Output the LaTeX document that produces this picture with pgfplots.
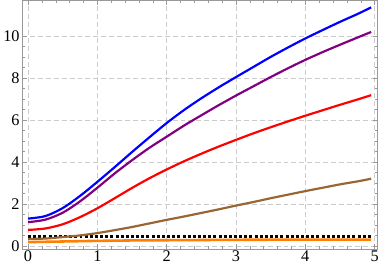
\documentclass[border=0pt]{standalone}
\usepackage{pgfplots}
\pgfplotsset{compat=1.18}
\usepackage{fontspec}
\setmainfont{Liberation Serif}
\definecolor{mbrown}{rgb}{0.6,0.4,0.2}
\definecolor{morange}{rgb}{1,0.5,0}
\definecolor{mpurple}{rgb}{0.5,0,0.5}
\definecolor{framegray}{gray}{0.6}
\begin{document}
\begin{tikzpicture}
\begin{axis}[
  scale only axis,
  width=359bp, height=251bp,
  xmin=-0.086, xmax=5.043,
  ymin=-0.14, ymax=11.7,
  xtick={0,1,2,3,4,5},
  ytick={0,2,4,6,8,10},
  minor x tick num=4,
  minor y tick num=3,
  tick align=inside,
  xtick pos=both, ytick pos=both,
  xticklabel pos=lower, yticklabel pos=left,
  major tick length=5bp,
  minor tick length=3bp,
  axis line style={framegray},
  every tick/.style={framegray, line width=0.5pt},
  grid=major,
  major grid style={gray!40, dash pattern=on 5bp off 3bp, line width=0.5pt},
  /pgf/number format/assume math mode=true,
  ticklabel style={font=\fontsize{16.5}{19}\selectfont, text=black},
  xticklabel style={yshift=2bp},
  yticklabel style={xshift=1bp},
]
\addplot[morange, line width=2.6bp] coordinates {
(0,0.18) (0.5,0.21) (1,0.24) (1.5,0.26) (2,0.27) (2.5,0.28) (3,0.29) (3.5,0.295) (4,0.3) (4.5,0.3) (4.95,0.3)};
\addplot[black, line width=3bp, dash pattern=on 3bp off 2.2bp] coordinates {
(0,0.47) (4.95,0.47)};
\addplot[mbrown, line width=2.2bp, smooth] coordinates {
(0,0.33) (0.25,0.35) (0.5,0.42) (0.75,0.5) (1,0.61) (1.25,0.75) (1.5,0.9) (1.75,1.07) (2,1.24) (2.25,1.4) (2.5,1.57) (2.75,1.74) (3,1.92) (3.25,2.09) (3.5,2.27) (3.75,2.44) (4,2.61) (4.25,2.77) (4.5,2.93) (4.75,3.07) (4.95,3.2)};
\addplot[red, line width=2.2bp, smooth] coordinates {
(0,0.76) (0.25,0.83) (0.5,1.03) (0.75,1.37) (1,1.79) (1.25,2.27) (1.5,2.76) (1.75,3.22) (2,3.64) (2.25,4.03) (2.5,4.39) (2.75,4.73) (3,5.05) (3.25,5.36) (3.5,5.65) (3.75,5.93) (4,6.2) (4.25,6.46) (4.5,6.72) (4.75,6.97) (4.95,7.18)};
\addplot[mpurple, line width=2.2bp, smooth] coordinates {
(0,1.13) (0.25,1.25) (0.5,1.58) (0.75,2.12) (1,2.77) (1.25,3.45) (1.5,4.08) (1.75,4.67) (2,5.2) (2.25,5.73) (2.5,6.22) (2.75,6.7) (3,7.16) (3.25,7.6) (3.5,8.04) (3.75,8.46) (4,8.86) (4.25,9.23) (4.5,9.58) (4.75,9.92) (4.95,10.19)};
\addplot[blue, line width=2.2bp, smooth] coordinates {
(0,1.30) (0.25,1.42) (0.5,1.8) (0.75,2.38) (1,3.05) (1.25,3.75) (1.5,4.47) (1.75,5.17) (2,5.85) (2.25,6.47) (2.5,7.03) (2.75,7.55) (3,8.04) (3.25,8.52) (3.5,9.0) (3.75,9.45) (4,9.88) (4.25,10.28) (4.5,10.67) (4.75,11.04) (4.95,11.36)};
\end{axis}
\end{tikzpicture}
\end{document}
